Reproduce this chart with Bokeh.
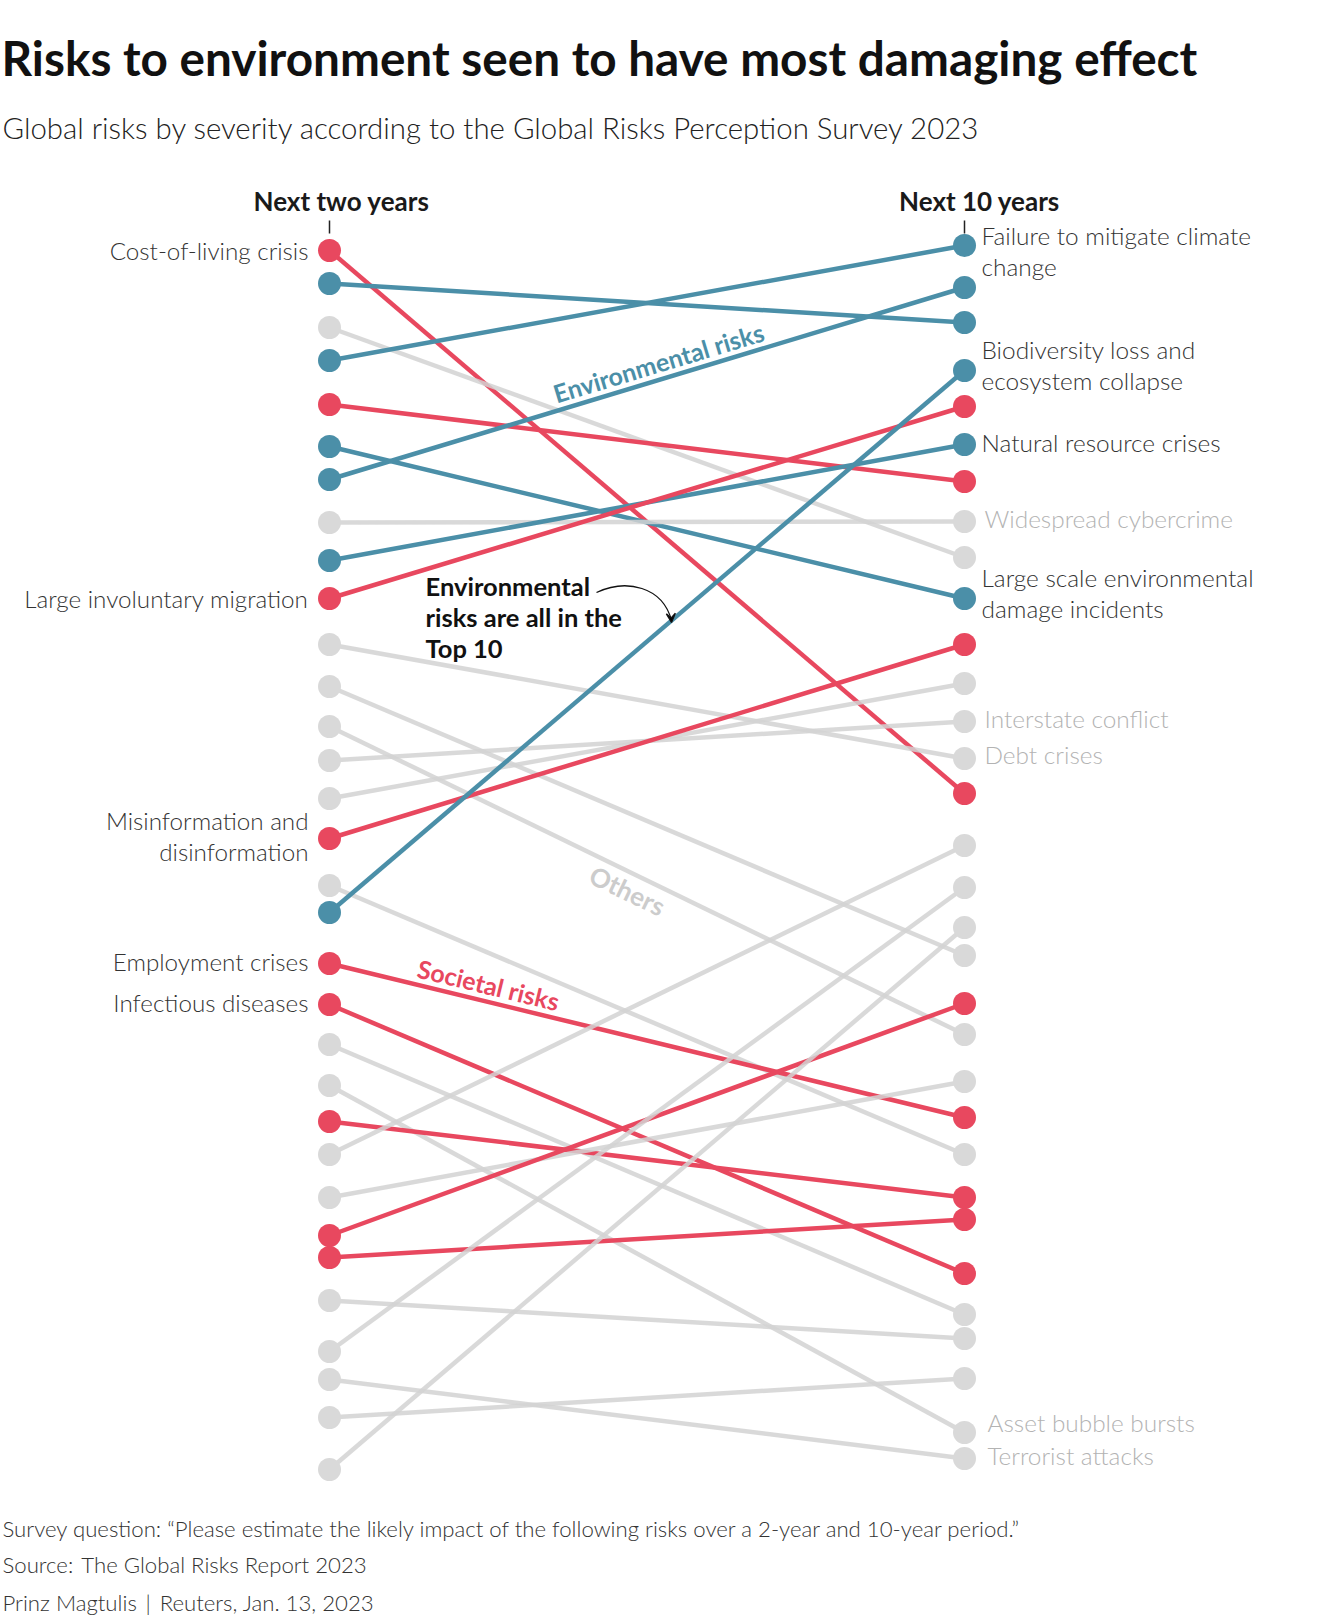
from bokeh.plotting import figure
from bokeh.models import Range1d, Label, Arrow, VeeHead
from bokeh.embed import file_html
from bokeh.resources import INLINE

# ---------------- data ----------------
periods = ["Next two years", "Next 10 years"]

risks = [
    "Cost-of-living crisis",
    "Natural disasters and extreme weather events",
    "Geoeconomic confrontation",
    "Failure to mitigate climate change",
    "Erosion of social cohesion and societal polarization",
    "Large scale environmental damage incidents",
    "Failure of climate change adaptation",
    "Widespread cybercrime",
    "Natural resource crises",
    "Large involuntary migration",
    "Debt crises",
    "Failure to stabilize price trajectories",
    "Prolonged economic downturn",
    "Interstate conflict",
    "Breakdown of critical information infrastructure",
    "Misinformation and disinformation",
    "Digital power concentration",
    "Biodiversity loss and ecosystem collapse",
    "Employment crises",
    "Infectious diseases",
    "Collapse of a systemically important supply chain",
    "Asset bubble bursts",
    "Severe mental health deterioration",
    "Adverse outcomes of frontier technologies",
    "Digital inequality",
    "Chronic diseases and health conditions",
    "Collapse or lack of public infrastructure and services",
    "Illicit economic activity",
    "State collapse",
    "Terrorist attacks",
    "Collapse of a systemically important industry",
    "Use of weapons of mass destruction",
]

group = [
    "soc", "env", "oth", "env", "soc", "env", "env", "oth",
    "env", "soc", "oth", "oth", "oth", "oth", "oth", "soc",
    "oth", "env", "soc", "soc", "oth", "oth", "soc", "oth",
    "oth", "soc", "soc", "oth", "oth", "oth", "oth", "oth",
]

# severity scores
two_year = [
    5.000, 4.967, 4.923, 4.890, 4.846, 4.804, 4.771, 4.728,
    4.690, 4.652, 4.606, 4.564, 4.524, 4.490, 4.452, 4.412,
    4.365, 4.338, 4.287, 4.246, 4.206, 4.165, 4.129, 4.096,
    4.053, 4.015, 3.993, 3.950, 3.899, 3.871, 3.833, 3.781,
]
ten_year = [
    4.457, 4.928, 4.693, 5.005, 4.769, 4.652, 4.963, 4.729,
    4.806, 4.844, 4.492, 4.295, 4.216, 4.529, 4.567, 4.606,
    4.096, 4.880, 4.133, 3.977, 3.936, 3.818, 4.053, 4.405,
    4.169, 4.247, 4.031, 3.912, 4.363, 3.792, 3.872, 4.323,
]

left_labels = {0: ["Cost-of-living crisis"],
               9: ["Large involuntary migration"],
               15: ["Misinformation and", "disinformation"],
               18: ["Employment crises"],
               19: ["Infectious diseases"]}
right_labels = {3: ["Failure to mitigate climate", "change"],
                17: ["Biodiversity loss and", "ecosystem collapse"],
                8: ["Natural resource crises"],
                7: ["Widespread cybercrime"],
                5: ["Large scale environmental", "damage incidents"],
                13: ["Interstate conflict"],
                10: ["Debt crises"],
                21: ["Asset bubble bursts"],
                29: ["Terrorist attacks"]}

# ---------------- style ----------------
RED = "#e8485f"
BLUE = "#4b8fa8"
GREY = "#d2d2d2"
GREY_DOT = "#d9d9d9"
GREY_TXT = "#b3b3b3"
DARK = "#333333"
FONT = "Lato"
LIGHT = "Lato Light"

W, H = 1304, 1618
PX_X = 635.0     # px per x unit
PX_Y = 1000.0    # px per score unit
X0_PAGE = 329.0  # x of first column
Y5_PAGE = 250.0  # y of score 5.0

def dx(px):
    return (px - X0_PAGE) / PX_X

def dy(py):
    return 5.0 - (py - Y5_PAGE) / PX_Y

p = figure(width=W, height=H, output_backend="svg", toolbar_location=None,
           x_axis_type=None, y_axis_type=None,
           x_range=Range1d(dx(0), dx(W)), y_range=Range1d(dy(H), dy(0)),
           min_border=0, outline_line_color=None)
p.background_fill_color = "white"
p.border_fill_color = "white"

col = {"soc": RED, "env": BLUE, "oth": GREY}
dcol = {"soc": RED, "env": BLUE, "oth": GREY_DOT}

xs = [[0, 1] for _ in risks]
ys = [[a, b] for a, b in zip(two_year, ten_year)]
p.multi_line(xs=xs, ys=ys, line_color=[col[g] for g in group], line_width=4.5,
             line_alpha=[0.85 if g == "oth" else 1.0 for g in group])

dot_x = [0] * len(risks) + [1] * len(risks)
dot_y = two_year + ten_year
dot_c = [dcol[g] for g in group] * 2
p.scatter(x=dot_x, y=dot_y, size=23, fill_color=dot_c, line_color=None)


def add_text(px, py, txt, size, color, bold=False, align="left", font=FONT, angle=0.0):
    p.add_layout(Label(x=px, y=H - py, x_units="screen", y_units="screen",
                       text=txt, text_font=font, text_font_size=f"{size}px",
                       text_font_style="bold" if bold else "normal",
                       text_color=color, text_align=align, text_baseline="middle",
                       angle=angle))

# title / subtitle
add_text(1, 57, "Risks to environment seen to have most damaging effect", 47.7, "#111111", bold=True)
add_text(2, 127, "Global risks by severity according to the Global Risks Perception Survey 2023", 29.4, "#222222", font=LIGHT)

# headers
add_text(341, 200, periods[0], 26, "#1a1a1a", bold=True, align="center")
add_text(979, 200, periods[1], 26, "#1a1a1a", bold=True, align="center")
p.segment(x0=[0, 1], y0=[dy(220), dy(220)], x1=[0, 1], y1=[dy(233), dy(233)],
          line_color="#222222", line_width=1.5)

# risk labels (positioned from the dots)
LINE_GAP = 31
left_offsets = {18: -2, 19: -2}
for i, lines in left_labels.items():
    py = Y5_PAGE + (5.0 - two_year[i]) * PX_Y + left_offsets.get(i, 0)
    start = py - (len(lines) - 1) * LINE_GAP / 2 - (len(lines) - 1) * 3
    for k, t in enumerate(lines):
        add_text(308, start + k * LINE_GAP, t, 24.2, DARK, align="right", font=LIGHT)

right_offsets = {3: -10, 17: -21, 5: -21, 21: -10, 29: -3, 8: -2, 7: -3, 13: -3, 10: -4}
for i, lines in right_labels.items():
    py = Y5_PAGE + (5.0 - ten_year[i]) * PX_Y + right_offsets.get(i, 0)
    c = DARK if group[i] != "oth" else GREY_TXT
    x0 = 981 if group[i] != "oth" else 984
    if i in (21, 29):
        x0 = 987
    for k, t in enumerate(lines):
        add_text(x0, py + k * LINE_GAP, t, 24.4, c, font=LIGHT)

# group annotations
add_text(658, 362, "Environmental risks", 25, BLUE, bold=True, align="center", angle=0.293)
add_text(627, 890, "Others", 26, "#cccccc", bold=True, align="center", angle=-0.447)
add_text(488, 984, "Societal risks", 25, RED, bold=True, align="center", angle=-0.237)

# callout
add_text(425, 585, "Environmental", 25.5, "#111111", bold=True)
add_text(425, 616, "risks are all in the", 25.5, "#111111", bold=True)
add_text(425, 647, "Top 10", 25.5, "#111111", bold=True)
p.bezier(x0=[dx(596)], y0=[dy(592)], x1=[dx(671)], y1=[dy(620)],
         cx0=[dx(626)], cy0=[dy(578)], cx1=[dx(662)], cy1=[dy(586)],
         line_color="#111111", line_width=1.3)
p.add_layout(Arrow(end=VeeHead(size=9, line_color="#111111", line_width=1.3),
                   x_start=670, y_start=H - 608, x_end=671, y_end=H - 622,
                   start_units="screen", end_units="screen",
                   line_color="#111111", line_width=1.3, line_alpha=0.0))

# footer
add_text(2, 1528, "Survey question: \u201cPlease estimate the likely impact of the following risks over a 2-year and 10-year period.\u201d", 22.2, "#333333", font=LIGHT)
add_text(2, 1564, "Source:\u2009 The Global Risks Report 2023", 22.2, "#333333", font=LIGHT)
add_text(2, 1602, "Prinz Magtulis\u2009 |\u2009 Reuters, Jan. 13, 2023", 22.2, "#333333", font=LIGHT)

open("out.html", "w").write(file_html(p, INLINE))
